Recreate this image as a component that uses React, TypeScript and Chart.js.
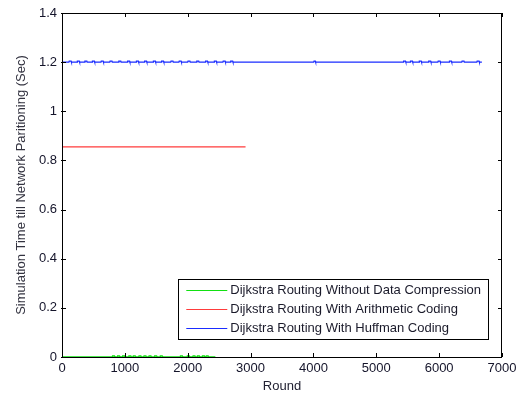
import React, { useEffect, useRef } from "react";
import { Chart, registerables } from "chart.js";

Chart.register(...registerables);

const seriesLabels = [
  "Dijkstra Routing Without Data Compression",
  "Dijkstra Routing With Arithmetic Coding",
  "Dijkstra Routing With Huffman Coding",
];
const seriesColors = ["#12e012", "#ff3b3b", "#1a2cff"];

const xTicks = [0, 1000, 2000, 3000, 4000, 5000, 6000, 7000];
const xTickLabels = ["0", "1000", "2000", "3000", "4000", "5000", "6000", "7000"];
const yTicks = [0, 0.2, 0.4, 0.6, 0.8, 1, 1.2, 1.4];
const yTickLabels = ["0", "0.2", "0.4", "0.6", "0.8", "1", "1.2", "1.4"];

const xTitle = "Round";
const yTitle = "Simulation Time till Network Paritioning (Sec)";

// Without data compression
const greenRounds = [
  0,
  800, 805, 835, 840,
  880, 885, 915, 920,
  960, 965, 995, 1000,
  1060, 1065, 1095, 1100,
  1130, 1135, 1165, 1170,
  1220, 1225, 1255, 1260,
  1300, 1305, 1335, 1340,
  1380, 1385, 1415, 1420,
  1470, 1475, 1505, 1510,
  1560, 1565, 1595, 1600,
  1880, 1885, 1915, 1920,
  1990, 1995, 2025, 2030,
  2080, 2085, 2115, 2120,
  2150, 2155, 2185, 2190,
  2230, 2235, 2265, 2270,
  2290, 2295, 2325, 2330,
  2440,
];
const greenValues = [
  0,
  0, 0.004, 0.004, 0,
  0, 0.004, 0.004, 0,
  0, 0.004, 0.004, 0,
  0, 0.004, 0.004, 0,
  0, 0.004, 0.004, 0,
  0, 0.004, 0.004, 0,
  0, 0.004, 0.004, 0,
  0, 0.004, 0.004, 0,
  0, 0.004, 0.004, 0,
  0, 0.004, 0.004, 0,
  0, 0.004, 0.004, 0,
  0, 0.004, 0.004, 0,
  0, 0.004, 0.004, 0,
  0, 0.004, 0.004, 0,
  0, 0.004, 0.004, 0,
  0, 0.004, 0.004, 0,
  0,
];

// Arithmetic coding
const redRounds = [0, 2920];
const redValues = [0.855, 0.855];

// Huffman coding
const blueRounds = [
  0,
  110, 115, 145, 150,
  240, 245, 275, 280,
  360, 365, 395, 400,
  480, 485, 515, 520,
  620, 625, 655, 660,
  760, 765, 795, 800,
  900, 905, 935, 940,
  1040, 1045, 1075, 1080,
  1180, 1185, 1215, 1220,
  1310, 1315, 1345, 1350,
  1450, 1455, 1485, 1490,
  1580, 1585, 1615, 1620,
  1730, 1735, 1765, 1770,
  1860, 1865, 1895, 1900,
  2000, 2005, 2035, 2040,
  2140, 2145, 2175, 2180,
  2280, 2285, 2315, 2320,
  2420, 2425, 2455, 2460,
  2560, 2565, 2595, 2600,
  2680, 2685, 2715, 2720,
  4005, 4010, 4030, 4035,
  5430, 5435, 5465, 5470,
  5540, 5545, 5575, 5580,
  5680, 5685, 5715, 5720,
  5830, 5835, 5865, 5870,
  5980, 5985, 6015, 6020,
  6160, 6165, 6195, 6200,
  6360, 6365, 6395, 6400,
  6600, 6605, 6635, 6640,
  6680,
];
const blueValues = [
  1.2,
  1.2, 1.204, 1.204, 1.2,
  1.2, 1.204, 1.204, 1.2,
  1.2, 1.204, 1.204, 1.2,
  1.2, 1.204, 1.204, 1.2,
  1.2, 1.204, 1.204, 1.2,
  1.2, 1.204, 1.204, 1.2,
  1.2, 1.204, 1.204, 1.2,
  1.2, 1.204, 1.204, 1.2,
  1.2, 1.204, 1.204, 1.2,
  1.2, 1.204, 1.204, 1.2,
  1.2, 1.204, 1.204, 1.2,
  1.2, 1.204, 1.204, 1.2,
  1.2, 1.204, 1.204, 1.2,
  1.2, 1.204, 1.204, 1.2,
  1.2, 1.204, 1.204, 1.2,
  1.2, 1.204, 1.204, 1.2,
  1.2, 1.204, 1.204, 1.2,
  1.2, 1.204, 1.204, 1.2,
  1.2, 1.204, 1.204, 1.2,
  1.2, 1.204, 1.204, 1.2,
  1.2, 1.204, 1.204, 1.2,
  1.2, 1.204, 1.204, 1.2,
  1.2, 1.204, 1.204, 1.2,
  1.2, 1.204, 1.204, 1.2,
  1.2, 1.204, 1.204, 1.2,
  1.2, 1.204, 1.204, 1.2,
  1.2, 1.204, 1.204, 1.2,
  1.2, 1.204, 1.204, 1.2,
  1.2, 1.204, 1.204, 1.2,
  1.2,
];

const toPoints = (xs: number[], ys: number[]) => xs.map((x, i) => ({ x, y: ys[i] }));

const FONT = "Arial, 'Liberation Sans', sans-serif";

const boxPlugin = {
  id: "matlabBox",
  afterDraw(chart: any) {
    const { ctx, chartArea: ca, scales } = chart;
    ctx.save();
    ctx.strokeStyle = "#000";
    ctx.lineWidth = 1;
    ctx.strokeRect(Math.round(ca.left) + 0.5, Math.round(ca.top) + 0.5, Math.round(ca.right - ca.left) - 1, Math.round(ca.bottom - ca.top));
    const tl = 4;
    ctx.beginPath();
    xTicks.forEach((v) => {
      const px = Math.round(scales.x.getPixelForValue(v)) + 0.5;
      ctx.moveTo(px, ca.bottom);
      ctx.lineTo(px, ca.bottom - tl);
      ctx.moveTo(px, ca.top);
      ctx.lineTo(px, ca.top + tl);
    });
    yTicks.forEach((v) => {
      const py = Math.round(scales.y.getPixelForValue(v)) + 0.5;
      ctx.moveTo(ca.left - 1, py);
      ctx.lineTo(ca.left + tl, py);
      ctx.moveTo(ca.right, py);
      ctx.lineTo(ca.right - tl, py);
    });
    ctx.stroke();

    // legend inside the axes (south-east)
    ctx.font = `13px ${FONT}`;
    const labels = chart.data.datasets.map((d: any) => d.label);
    const textW = Math.max(...labels.map((l: string) => ctx.measureText(l).width));
    const rowH = 19;
    const lineLen = 41;
    const boxW = 8 + lineLen + 3 + textW + 7;
    const boxH = 60;
    const right = Math.round(ca.right) - 14;
    const bottom = Math.round(ca.bottom) - 18;
    const left = right - boxW;
    const top = bottom - boxH;
    ctx.fillStyle = "#fff";
    ctx.fillRect(left, top, boxW, boxH);
    ctx.strokeStyle = "#000";
    ctx.strokeRect(Math.round(left) + 0.5, Math.round(top) + 0.5, Math.round(boxW), Math.round(boxH));
    chart.data.datasets.forEach((d: any, i: number) => {
      const y = Math.round(top + 11 + i * rowH) + 0.5;
      ctx.strokeStyle = d.borderColor;
      ctx.lineWidth = 1;
      ctx.beginPath();
      ctx.moveTo(left + 8, y);
      ctx.lineTo(left + 8 + lineLen, y);
      ctx.stroke();
      ctx.fillStyle = "#1a1a2a";
      ctx.textAlign = "left";
      ctx.textBaseline = "middle";
      ctx.fillText(d.label, left + 8 + lineLen + 3, y);
    });
    ctx.restore();
  },
};

export default function App() {
  const ref = useRef<HTMLCanvasElement | null>(null);
  useEffect(() => {
    document.body.style.margin = "0";
    const canvas = ref.current;
    if (!canvas) return;
    const chart = new Chart(canvas, {
      type: "line",
      data: {
        datasets: [
          { label: seriesLabels[0], data: toPoints(greenRounds, greenValues), borderColor: seriesColors[0], borderWidth: 1.3 },
          { label: seriesLabels[1], data: toPoints(redRounds, redValues), borderColor: seriesColors[1], borderWidth: 1.3 },
          { label: seriesLabels[2], data: toPoints(blueRounds, blueValues), borderColor: seriesColors[2], borderWidth: 1.3 },
        ],
      },
      options: {
        animation: false,
        responsive: false,
        parsing: false as any,
        elements: { point: { radius: 0 }, line: { tension: 0 } },
        layout: { padding: { top: 13, right: 22, left: 0, bottom: 0 } },
        plugins: { legend: { display: false }, tooltip: { enabled: false } },
        scales: {
          x: {
            type: "linear",
            min: 0,
            max: 7000,
            afterBuildTicks: (s: any) => {
              s.ticks = xTicks.map((v) => ({ value: v }));
            },
            ticks: {
              callback: (v: any) => xTickLabels[xTicks.indexOf(Number(v))] ?? "",
              font: { family: FONT, size: 13 },
              color: "#14142a",
              padding: 4,
              maxRotation: 0,
              autoSkip: false,
            },
            grid: { display: false, drawTicks: false },
            border: { display: false },
            title: {
              display: true,
              text: xTitle,
              font: { family: FONT, size: 13 },
              color: "#222233",
              padding: { top: 0, bottom: 2 },
            },
            afterFit: (s: any) => {
              s.height = 39;
            },
          },
          y: {
            type: "linear",
            min: 0,
            max: 1.4,
            afterBuildTicks: (s: any) => {
              s.ticks = yTicks.map((v) => ({ value: v }));
            },
            ticks: {
              callback: (v: any) => {
                const i = yTicks.findIndex((t) => Math.abs(t - Number(v)) < 1e-9);
                return i >= 0 ? yTickLabels[i] : "";
              },
              font: { family: FONT, size: 13 },
              color: "#14142a",
              padding: 5,
              autoSkip: false,
            },
            grid: { display: false, drawTicks: false },
            border: { display: false },
            title: {
              display: true,
              text: yTitle,
              font: { family: FONT, size: 13 },
              color: "#333340",
              padding: { top: 14, bottom: 0 },
            },
            afterFit: (s: any) => {
              s.width = 62;
            },
          },
        },
      },
      plugins: [boxPlugin],
    });
    return () => chart.destroy();
  }, []);
  return <canvas ref={ref} width={524} height={396} style={{ display: "block" }} />;
}
